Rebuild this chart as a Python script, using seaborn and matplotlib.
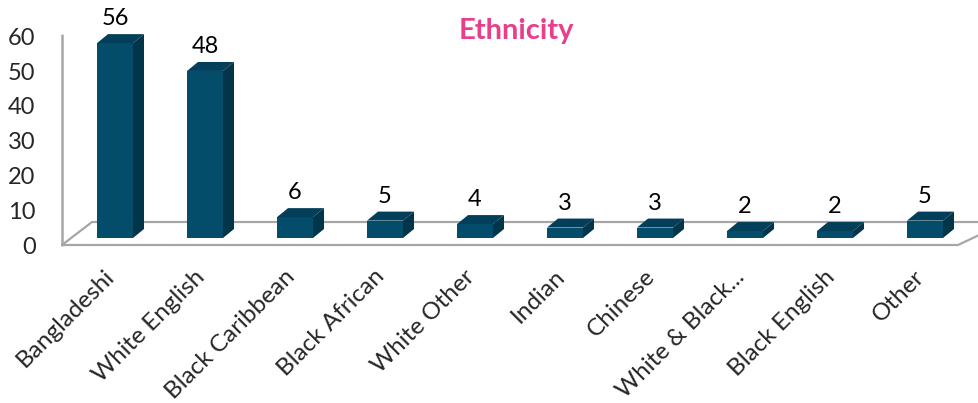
import seaborn as sns
import matplotlib.pyplot as plt
import matplotlib.transforms as mtransforms
from matplotlib.patches import Polygon

# data
ethnicities = ["Bangladeshi", "White English", "Black Caribbean", "Black African",
               "White Other", "Indian", "Chinese", "White & Black...",
               "Black English", "Other"]
counts = [56, 48, 6, 5, 4, 3, 3, 2, 2, 5]
y_ticks = [0, 10, 20, 30, 40, 50, 60]

front_col = "#034C6A"
top_col = "#033F5A"
side_col = "#02344A"
line_col = "#A6A6A6"

sns.set_style("white")
plt.rcParams['font.family'] = ['Lato', 'DejaVu Sans']

W, H = 979, 403
fig = plt.figure(figsize=(W / 100, H / 100), dpi=100)
ax = fig.add_axes([62 / W, (H - 245) / H, (W - 62) / W, 245 / H])

sns.barplot(x=ethnicities, y=counts, color=front_col, saturation=1,
            width=0.4, linewidth=0, ax=ax, zorder=3)

# pixel scale -> data scale
px_x = 90.0      # pixels per category
px_y = 3.48      # pixels per unit
ax.set_xlim(-53 / px_x, (W - 115) / px_x)
ax.set_ylim(-7 / px_y, 238 / px_y)

# 3d look: top and side faces from every bar
dx, dy = 11 / px_x, 9 / px_y
for p in list(ax.patches):
    x0, w, h = p.get_x(), p.get_width(), p.get_height()
    top = [(x0, h), (x0 + w, h), (x0 + w + dx, h + dy), (x0 + dx, h + dy)]
    side = [(x0 + w, 0), (x0 + w + dx, dy), (x0 + w + dx, h + dy), (x0 + w, h)]
    ax.add_patch(Polygon(top, closed=True, color=top_col, lw=0, zorder=3))
    ax.add_patch(Polygon(side, closed=True, color=side_col, lw=0, zorder=3))

# floor and wall lines
xl, xr = ax.get_xlim()
y_front = -7 / px_y
y_back = 16 / px_y
fdx = 30 / px_x
ax.plot([xl, xr - 21 / px_x, xr + fdx], [y_front, y_front, y_back + 0.3],
        color=line_col, lw=1.6, clip_on=False, zorder=1)
ax.plot([xl, xl + fdx, xr + 1], [y_front, y_back, y_back],
        color=line_col, lw=1.6, clip_on=False, zorder=1)
ax.plot([xl, xl], [y_front, 203 / px_y], color=line_col, lw=1.8,
        clip_on=False, zorder=1)

for i, v in enumerate(counts):
    ax.annotate(str(v), (i, v), xytext=(0, 13), textcoords='offset points',
                ha='center', va='baseline', fontsize=17, color='black')

ax.set_yticks(y_ticks)
ax.set_yticklabels([str(t) for t in y_ticks], fontsize=17)
ax.tick_params(axis='y', length=0, pad=19)
shift = mtransforms.ScaledTranslation(0, -7 / 100, fig.dpi_scale_trans)
for lab in ax.get_yticklabels():
    lab.set_transform(lab.get_transform() + shift)

ax.set_xticks(range(len(ethnicities)))
ax.set_xticklabels(ethnicities, rotation=45, ha='right',
                   rotation_mode='anchor', fontsize=17.5)
ax.tick_params(axis='x', length=0, pad=15)
xshift = mtransforms.ScaledTranslation(-11 / 100, 0, fig.dpi_scale_trans)
for lab in ax.get_xticklabels():
    lab.set_transform(lab.get_transform() + xshift)

for s in ax.spines.values():
    s.set_visible(False)
ax.set_xlabel("")
ax.set_ylabel("")
ax.patch.set_alpha(0)

fig.text(516 / W, 1 - 31 / H, "Ethnicity", ha='center', va='center',
         fontsize=21, fontweight='bold', color="#E83E8C")

fig.savefig("out.png", dpi=100)
